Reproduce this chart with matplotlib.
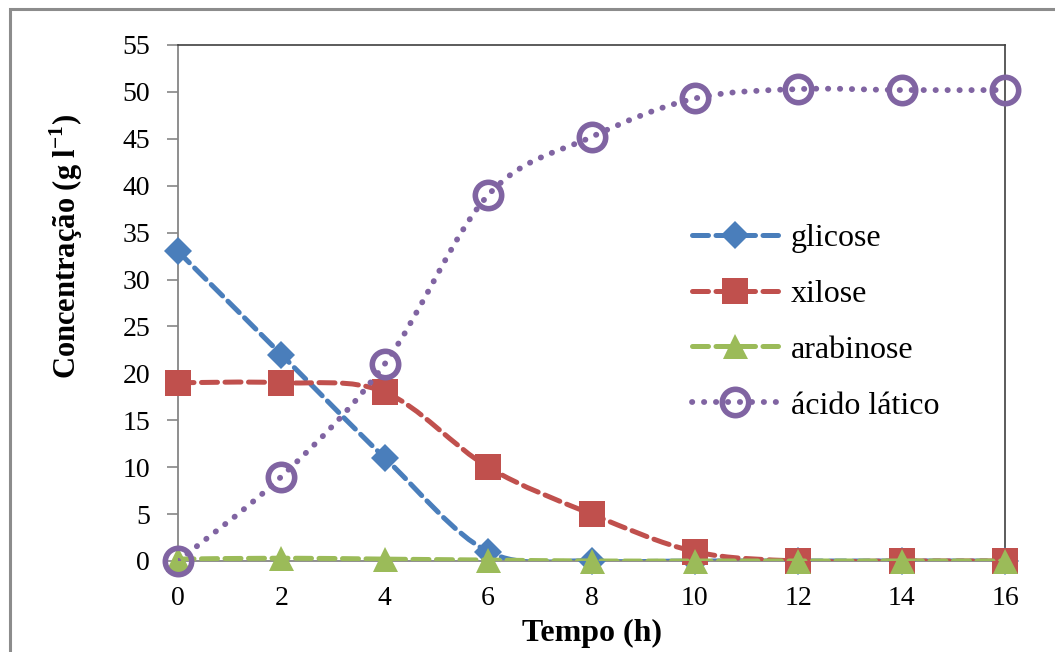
import numpy as np
import matplotlib.pyplot as plt
from matplotlib.path import Path
from matplotlib.patches import PathPatch, Rectangle
from matplotlib.lines import Line2D

plt.rcParams['font.family'] = ['Liberation Serif', 'DejaVu Serif']
plt.rcParams['mathtext.fontset'] = 'custom'
plt.rcParams['mathtext.rm'] = 'Liberation Serif'
plt.rcParams['mathtext.bf'] = 'Liberation Serif:bold'

# Data
tempo = [0, 2, 4, 6, 8, 10, 12, 14, 16]
glicose = [33, 22, 11, 1, 0, 0, 0, 0, 0]
xilose = [19, 19, 18, 10, 5, 1, 0, 0, 0]
arabinose = [0.2, 0.3, 0.2, 0.1, 0, 0, 0, 0, 0]
acido_latico = [0, 9, 21, 39, 45.2, 49.3, 50.3, 50.2, 50.2]


def smooth_path(x, y):
    # Excel-like smoothed line: cubic Bezier through the points
    x = np.asarray(x, float)
    y = np.asarray(y, float)
    pts = np.column_stack([x, y])
    n = len(pts)
    verts = [pts[0]]
    codes = [Path.MOVETO]
    for i in range(n - 1):
        p0 = pts[i - 1] if i > 0 else pts[i]
        p1 = pts[i]
        p2 = pts[i + 1]
        p3 = pts[i + 2] if i + 2 < n else pts[i + 1]
        c1 = p1 + (p2 - p0) / 6.0
        c2 = p2 - (p3 - p1) / 6.0
        verts += [c1, c2, p2]
        codes += [Path.CURVE4] * 3
    return Path(verts, codes)


dash = (0, (3.2, 1.5))
dots = (0, (0.05, 2.0))
series = [
    ('glicose', glicose, '#4A7EBB', dash, 3.6, 'D', 14),
    ('xilose', xilose, '#C0504D', dash, 3.6, 's', 19),
    ('arabinose', arabinose, '#9BBB59', dash, 3.6, '^', 18),
    ('ácido lático', acido_latico, '#8064A2', dots, 4.2, 'o', 19),
]

fig = plt.figure(figsize=(10.55, 6.52), dpi=100)
fig.patches.append(Rectangle((10 / 1055, -0.1), 1.2, (652 - 9) / 652 + 0.1,
                             transform=fig.transFigure, fill=False,
                             edgecolor='#8c8c8c', linewidth=2.2))
ax = fig.add_axes([178 / 1055, 91 / 652, 827 / 1055, 516 / 652])

handles = []
for k, (name, vals, color, ls, lw, mk, ms) in enumerate(series):
    patch = PathPatch(smooth_path(tempo, vals), fill=False, edgecolor=color,
                      linewidth=lw, linestyle=ls, capstyle='round',
                      zorder=2 + 2 * k)
    ax.add_patch(patch)
    if mk == 'o':
        ax.plot(tempo, vals, linestyle='none', marker=mk, markersize=ms,
                markerfacecolor='none', markeredgecolor=color,
                markeredgewidth=4, clip_on=False, zorder=3 + 2 * k)
        h = Line2D([], [], color=color, linewidth=lw, linestyle=ls,
                   dash_capstyle='round', marker=mk, markersize=ms,
                   markerfacecolor='none', markeredgecolor=color,
                   markeredgewidth=4)
    else:
        ax.plot(tempo, vals, linestyle='none', marker=mk, markersize=ms,
                color=color, markeredgewidth=0, clip_on=False,
                zorder=3 + 2 * k)
        h = Line2D([], [], color=color, linewidth=lw, linestyle=ls,
                   dash_capstyle='round', marker=mk, markersize=ms,
                   markeredgewidth=0)
    handles.append(h)

ax.set_xlim(0, 16)
ax.set_ylim(0, 55)
ax.set_xticks(range(0, 17, 2))
ax.set_yticks(range(0, 56, 5))
ax.tick_params(axis='y', direction='out', length=8, width=1.2,
               color='#868686', labelsize=20, pad=12)
ax.tick_params(axis='x', length=0, labelsize=20, pad=18)

for s in ['left', 'bottom']:
    ax.spines[s].set_color('#868686')
    ax.spines[s].set_linewidth(1.3)
for s in ['top', 'right']:
    ax.spines[s].set_color('#404040')
    ax.spines[s].set_linewidth(1.2)

ax.set_xlabel('Tempo (h)', fontsize=23, fontweight='bold', va='center')
ax.xaxis.set_label_coords(0.5, -0.14)
ax.set_ylabel(r'Concentração (g l$^{\mathbf{-1}}$)', fontsize=22,
              fontweight='bold', va='center')
ax.yaxis.set_label_coords(-0.135, 0.61)

ax.legend(handles=handles, labels=[s[0] for s in series], loc='upper left',
          bbox_to_anchor=(0.6215, 0.654), frameon=False, fontsize=23,
          handlelength=2.7, handletextpad=0.4, labelspacing=0.83,
          borderpad=0, borderaxespad=0, numpoints=1)

fig.savefig('out.png', dpi=100)
